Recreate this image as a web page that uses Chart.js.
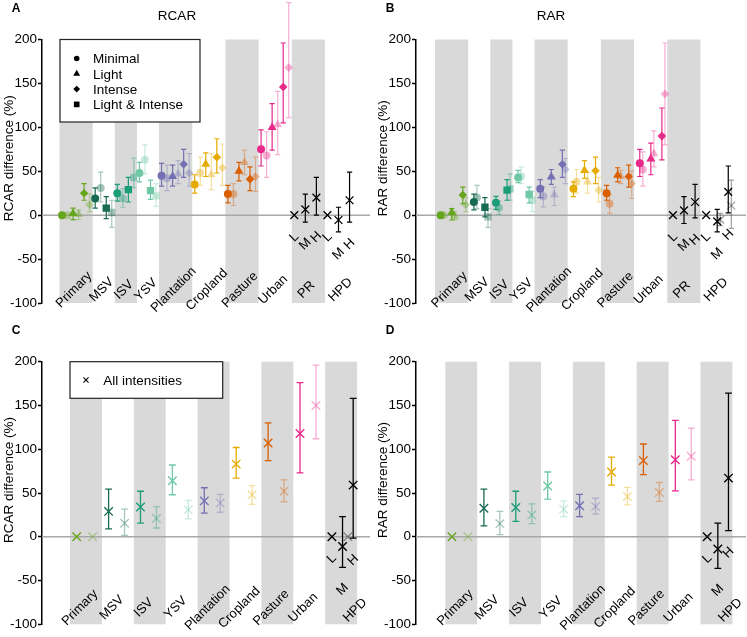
<!DOCTYPE html>
<html><head><meta charset="utf-8">
<script src="https://cdn.jsdelivr.net/npm/chart.js@4.4.1/dist/chart.umd.min.js"></script>
<style>
html,body{margin:0;padding:0;background:#fff;}
#wrap{position:relative;width:747px;height:637px;overflow:hidden;background:#fff;}
canvas{position:absolute;}
</style></head><body>
<div id="wrap">
<canvas id="cA" width="374" height="322" style="left:0;top:0"></canvas>
<canvas id="cB" width="373" height="322" style="left:374px;top:0"></canvas>
<canvas id="cC" width="374" height="315" style="left:0;top:322px"></canvas>
<canvas id="cD" width="373" height="315" style="left:374px;top:322px"></canvas>
</div>
<script>
// ---------------- data ----------------
const landUses = ['Primary','MSV','ISV','YSV','Plantation','Cropland','Pasture','Urban'];
const secondaryVeg = ['MSV','ISV','YSV'];
const pressureGroups = ['PR','HPD'];
const pressureLevels = ['L','M','H'];
const intensityNames = ['Minimal','Light','Intense','Light & Intense'];
const allLabel = 'All intensities';
const yTickValues = [-100,-50,0,50,100,150,200];
const landColors = ['#66a61e','#176b52','#1b9e77','#6fc8a6','#7570b3','#e6ab02','#d95f02','#e7298a'];

// [estimate, lower, upper]  (dark = main, pale = second estimate)
// Panel A : RCAR by land-use intensity
const rcarMinimal      = [[0,0,0],[19,8,31],[25,16,35],[48,38,60],[45,33,59],[35,25,46],[24,14,34],[75,56,97]];
const rcarLight        = [[2,-5,8],null,null,null,[44,33,57],[58,44,71],[50,39,60],[100,74,127]];
const rcarIntense      = [[25,17,36],null,null,null,[58,43,75],[66,48,87],[41,28,55],[146,105,196]];
const rcarLightIntense = [null,[8,-4,21],[29,15,43],[28,18,40],null,null,null,null];
const rcarMinimalPale      = [[0,0,0],[31,15,49],[19,9,30],[63,47,80],[42,28,57],[48,34,66],[24,11,36],[68,43,95]];
const rcarLightPale        = [[1,-5,6],null,null,null,[47,36,62],[46,29,70],[60,46,74],[103,69,141]];
const rcarIntensePale      = [[12,4,24],null,null,null,[48,33,70],[54,34,81],[44,27,66],[168,111,242]];
const rcarLightIntensePale = [null,[3,-14,17],[43,31,65],[22,10,36],null,null,null,null];
const rcarPR  = [[0,0,0],[6.5,-8,24],[20,0,43]];
const rcarHPD = [[0,0,0],[-5.5,-19,9],[17,-8,49]];

// Panel B : RAR by land-use intensity
const rarMinimal      = [[0,0,0],[15,6,24],[14,6.5,21.5],[43,37,51],[30,20,40.5],[30,21,38],[25,17,34],[59,44,75]];
const rarLight        = [[3,-5.5,7.5],null,null,null,[43.5,35,52],[51,42,62],[45.5,38,54],[64,46,82]];
const rarIntense      = [[23,13,32],null,null,null,[58,43,74],[50.5,36,66],[44,32,57],[90,63,122]];
const rarLightIntense = [null,[9,-2,20],[28.5,17,40.5],[23.5,14,32],null,null,null,null];
const rarMinimalPale      = [[0,0,0],[20,7.5,34],[8.5,1,16],[44,36,55],[21.5,9.5,32],[38,25,52],[13,2,23],[52,33,72]];
const rarLightPale        = [[-1,-5,4],null,null,null,[23,11,32],[38,25,49],[44,36,51],[70,55,96]];
const rarIntensePale      = [[12,4,20],null,null,null,[52,36,64.5],[28.5,15,43],[36,19,50.5],[138,80,196]];
const rarLightIntensePale = [null,[-2,-14,7.5],[30,17,47],[17,4,27],null,null,null,null];
const rarPR  = [[0,0,0],[5.5,-9.5,21],[15,-3,35]];
const rarHPD = [[0,0,0],[-7,-19,6.5],[26.5,2.5,56]];
const rarHPDPale = [null,[-5,-12,2],[11,-15,40]];

// Panel C : RCAR, all intensities
const rcarAll     = [[0,0,0],[29,9,54.5],[34,15.5,52],[64,48,82],[41,27,56],[83,67,102],[107,87,130],[118,73,176]];
const rcarAllPale = [[0,0,0],[15.5,1.5,31.5],[21,10,34.5],[31,20.5,41.5],[38.5,28,48.5],[48,37,58.5],[52,40,65],[150,112,196]];
const rcarAllHPD     = [[0,0,0],[-11,-35,23],[59,-1.5,158]];
const rcarAllHPDPale = [null,[0,0,0],null];

// Panel D : RAR, all intensities
const rarAll     = [[0,0,0],[32.5,12.5,54.5],[33.5,17.5,52],[58,43,74],[35.5,23,48.5],[74,59,91],[87,71,106],[88,52.5,133]];
const rarAllPale = [[0,0,0],[15,2.5,29],[25,15,37.5],[31.5,23,41],[34.5,26,44],[46,36.5,56.5],[50.5,40.5,62],[92,65,124]];
const rarAllHPD     = [[0,0,0],[-14,-36,15.5],[67,7,164]];
const rarAllHPDPale = [null,null,null];

// ---------------- rendering ----------------
const FONT = '"Liberation Sans", Arial, Helvetica, sans-serif';
const PALE = 0.38;
function rgba(hex, a) {
  const n = parseInt(hex.slice(1), 16);
  return 'rgba(' + ((n >> 16) & 255) + ',' + ((n >> 8) & 255) + ',' + (n & 255) + ',' + a + ')';
}
function rotText(ctx, txt, x, y, ang) {
  ctx.save(); ctx.translate(x, y); ctx.rotate(ang);
  ctx.textAlign = 'center'; ctx.textBaseline = 'middle';
  ctx.fillText(txt, 0, 0); ctx.restore();
}

function makePlugin(p) {
  return {
    id: 'deco' + p.letter,
    beforeDatasetsDraw(chart) {
      const ctx = chart.ctx, a = chart.chartArea, x = chart.scales.x, y = chart.scales.y;
      ctx.save();
      ctx.fillStyle = '#d9d9d9';
      p.bands.forEach(b => {
        const x0 = x.getPixelForValue(b[0]), x1 = x.getPixelForValue(b[1]);
        ctx.fillRect(x0, a.top, x1 - x0, a.bottom - a.top);
      });
      const y0 = y.getPixelForValue(0);
      ctx.strokeStyle = '#a8a8a8'; ctx.lineWidth = 1.5;
      ctx.beginPath(); ctx.moveTo(a.left, y0); ctx.lineTo(a.right, y0); ctx.stroke();
      for (let di = chart.data.datasets.length - 1; di >= 0; di--) {
        const ds = chart.data.datasets[di];
        const meta = chart.getDatasetMeta(di);
        meta.data.forEach((el, i) => {
          const r = ds.data[i];
          if (r.lo === r.hi) return;
          const ya = y.getPixelForValue(r.lo), yb = y.getPixelForValue(r.hi);
          ctx.strokeStyle = r.c; ctx.lineWidth = p.barWidth;
          ctx.beginPath();
          ctx.moveTo(el.x, ya); ctx.lineTo(el.x, yb);
          ctx.moveTo(el.x - p.cap, ya); ctx.lineTo(el.x + p.cap, ya);
          ctx.moveTo(el.x - p.cap, yb); ctx.lineTo(el.x + p.cap, yb);
          ctx.stroke();
        });
      }
      ctx.restore();
    },
    afterDraw(chart) {
      const ctx = chart.ctx, a = chart.chartArea, x = chart.scales.x, y = chart.scales.y;
      ctx.save();
      ctx.fillStyle = '#000';
      // category labels
      ctx.font = '13px ' + FONT;
      p.groupLabels.forEach((g, i) => {
        rotText(ctx, g.text, x.getPixelForValue(g.center) + g.dx, y.getPixelForValue(g.yv), -Math.PI / 4);
      });
      // L / M / H labels
      chart.data.datasets.forEach((ds, di) => {
        if (!ds.levelLabels) return;
        const meta = chart.getDatasetMeta(di);
        meta.data.forEach((el, i) => {
          const r = ds.data[i];
          rotText(ctx, r.lab, el.x, y.getPixelForValue(r.lo) + 22, -Math.PI / 4);
        });
      });
      // legend
      if (p.legend) {
        const L = p.legend;
        ctx.fillStyle = '#fff';
        ctx.fillRect(a.left + L.dx, a.top, L.w, L.h);
        ctx.strokeStyle = '#222'; ctx.lineWidth = 1.2;
        ctx.strokeRect(a.left + L.dx, a.top, L.w, L.h);
        L.items.forEach((it, i) => {
          const yy = a.top + L.y0 + i * L.step;
          ctx.fillStyle = '#000'; ctx.strokeStyle = '#000'; ctx.lineWidth = 1.1;
          Chart.helpers.drawPoint(ctx, {pointStyle: it.style, radius: it.r, rotation: 0, borderWidth: it.style === 'crossRot' ? 1.1 : 0}, a.left + L.mx, yy);
          ctx.fillStyle = '#000';
          ctx.font = '13.5px ' + FONT; ctx.textAlign = 'left'; ctx.textBaseline = 'middle';
          ctx.fillText(it.text, a.left + L.tx, yy + 1);
        });
      }
      // titles
      ctx.fillStyle = '#000';
      ctx.textAlign = 'center'; ctx.textBaseline = 'middle';
      if (p.title) { ctx.font = '13.5px ' + FONT; ctx.fillText(p.title, 177, 16); }
      ctx.font = 'bold 12px ' + FONT;
      ctx.fillText(p.letter, 16, 9);
      ctx.font = '13.5px ' + FONT;
      rotText(ctx, p.yTitle, 9, (a.top + a.bottom) / 2 - 13, -Math.PI / 2);
      ctx.restore();
    }
  };
}

function baseOptions(p) {
  return {
    responsive: false, animation: false, devicePixelRatio: 1, events: [],
    layout: {autoPadding: false, padding: {left: 0, right: p.W - p.R, top: p.T, bottom: p.H - p.B}},
    plugins: {legend: {display: false}, tooltip: {enabled: false}, title: {display: false}},
    scales: {
      x: {type: 'linear', display: false, min: (42 - p.p0) / p.w, max: (p.R - p.p0) / p.w},
      y: {
        type: 'linear', min: -100, max: 200,
        afterFit: s => { s.width = 42; },
        afterBuildTicks: s => { s.ticks = yTickValues.map(v => ({value: v})); },
        border: {display: true, color: '#000', width: 1.5},
        grid: {drawOnChartArea: false, drawTicks: true, tickLength: 4, color: '#000', tickColor: '#000', tickWidth: 1.5},
        ticks: {padding: 1, color: '#000', font: {family: FONT, size: 13.5}}
      }
    }
  };
}

function intensityPanel(p, series, prSolid, hpdSolid, hpdPale) {
  const sizes = landUses.map(u => secondaryVeg.includes(u) ? 4 : 6).concat(pressureGroups.map(() => 6));
  const starts = []; let s = 0; sizes.forEach(n => { starts.push(s); s += n; });
  const datasets = [];
  [{key: 'solid', off: 0, alpha: 1}, {key: 'pale', off: p.paleOff, alpha: PALE}].forEach(v => {
    series.forEach(se => {
      const data = [];
      se[v.key].forEach((t, g) => {
        if (!t) return;
        const col = v.alpha === 1 ? landColors[g] : rgba(landColors[g], v.alpha);
        data.push({x: starts[g] + 2 * se.k + v.off, y: t[0], lo: t[1], hi: t[2], c: col});
      });
      datasets.push({data, pointStyle: se.style, pointRadius: se.r, pointBackgroundColor: data.map(d => d.c),
        pointBorderWidth: 0, pointBorderColor: data.map(d => d.c), showLine: false});
    });
  });
  const pressure = (arr, gi, off, col, labels) => {
    const data = [];
    arr.forEach((t, j) => { if (t) data.push({x: starts[gi] + 2 * j + off, y: t[0], lo: t[1], hi: t[2], c: col, lab: pressureLevels[j]}); });
    return {data, pointStyle: 'crossRot', pointRadius: 5.5, pointBorderWidth: 1.3, pointBorderColor: col,
      pointBackgroundColor: 'rgba(0,0,0,0)', showLine: false, levelLabels: labels};
  };
  datasets.unshift(pressure(hpdSolid, 9, 0, '#000', true));
  datasets.unshift(pressure(prSolid, 8, 0, '#000', true));
  if (hpdPale) datasets.push(pressure(hpdPale, 9, p.paleOff, rgba('#000000', PALE), false));
  const names = landUses.concat(pressureGroups);
  p.bands = []; p.groupLabels = [];
  names.forEach((n, i) => {
    if (i % 2 === 0) p.bands.push([starts[i] + p.bandOff, starts[i] + sizes[i] + p.bandOff]);
    p.groupLabels.push({text: n, center: starts[i] + sizes[i] / 2 + p.bandOff, dx: n === 'HPD' ? -1 : -2, yv: -85});
  });
  return datasets;
}

function allPanel(p, solid, pale, hpdSolid, hpdPale) {
  const datasets = [];
  const mk = (arr, off, alpha) => {
    const data = [];
    arr.forEach((t, g) => {
      if (!t) return;
      const col = alpha === 1 ? landColors[g] : rgba(landColors[g], alpha);
      data.push({x: g + off, y: t[0], lo: t[1], hi: t[2], c: col});
    });
    return {data, pointStyle: 'crossRot', pointRadius: 6, pointBorderWidth: 1.4, pointBorderColor: data.map(d => d.c),
      pointBackgroundColor: 'rgba(0,0,0,0)', showLine: false};
  };
  const hp = (arr, off, col, labels) => {
    const data = [];
    arr.forEach((t, j) => { if (t) data.push({x: landUses.length + j / 3 + off, y: t[0], lo: t[1], hi: t[2], c: col, lab: pressureLevels[j]}); });
    return {data, pointStyle: 'crossRot', pointRadius: 6, pointBorderWidth: 1.4, pointBorderColor: col,
      pointBackgroundColor: 'rgba(0,0,0,0)', showLine: false, levelLabels: labels};
  };
  datasets.push(hp(hpdSolid, 0, '#000', true));
  datasets.push(mk(solid, 0, 1));
  datasets.push(mk(pale, 0.5, PALE));
  datasets.push(hp(hpdPale, 1 / 6, rgba('#000000', PALE), false));
  const names = landUses.concat(['HPD']);
  p.bands = []; p.groupLabels = [];
  names.forEach((n, g) => {
    if (g % 2 === 0) p.bands.push([g - 0.21, g + 0.79]);
    p.groupLabels.push({text: n, center: g + 0.29, dx: n === 'HPD' ? 14 : -6, yv: n === 'HPD' ? -84 : -81});
  });
  return datasets;
}

const seriesA = [
  {k: 0, style: 'circle', r: 4, solid: rcarMinimal, pale: rcarMinimalPale},
  {k: 1, style: 'triangle', r: 5.2, solid: rcarLight, pale: rcarLightPale},
  {k: 2, style: 'rectRot', r: 4.3, solid: rcarIntense, pale: rcarIntensePale},
  {k: 1, style: 'rect', r: 5.2, solid: rcarLightIntense, pale: rcarLightIntensePale}
];
const seriesB = [
  {k: 0, style: 'circle', r: 4, solid: rarMinimal, pale: rarMinimalPale},
  {k: 1, style: 'triangle', r: 5.2, solid: rarLight, pale: rarLightPale},
  {k: 2, style: 'rectRot', r: 4.3, solid: rarIntense, pale: rarIntensePale},
  {k: 1, style: 'rect', r: 5.2, solid: rarLightIntense, pale: rarLightIntensePale}
];

const pA = {letter: 'A', title: 'RCAR', yTitle: 'RCAR difference (%)', W: 374, H: 322, R: 370, T: 39.5, B: 303,
  p0: 62, w: 5.53, paleOff: 1, bandOff: -0.45, barWidth: 1.2, cap: 2.6,
  legend: {dx: 18, w: 140, h: 82.5, mx: 34.7, tx: 51, y0: 19, step: 15.3,
    items: [{style: 'circle', r: 2.8, text: intensityNames[0]}, {style: 'triangle', r: 4, text: intensityNames[1]},
            {style: 'rectRot', r: 3.4, text: intensityNames[2]}, {style: 'rect', r: 4, text: intensityNames[3]}]}};
const pB = {letter: 'B', title: 'RAR', yTitle: 'RAR difference (%)', W: 373, H: 322, R: 372, T: 39.5, B: 303,
  p0: 66.7, w: 5.53, paleOff: 0.55, bandOff: -1.03, barWidth: 1.2, cap: 2.6};
const pC = {letter: 'C', yTitle: 'RCAR difference (%)', W: 374, H: 315, R: 370, T: 39.7, B: 302.3,
  p0: 76.7, w: 31.9, barWidth: 1.3, cap: 3.4,
  legend: {dx: 28, w: 152.7, h: 36.6, mx: 44, tx: 61.3, y0: 18.3, step: 0,
    items: [{style: 'crossRot', r: 3.6, text: allLabel}]}};
const pD = {letter: 'D', yTitle: 'RAR difference (%)', W: 373, H: 315, R: 372, T: 39.7, B: 302.3,
  p0: 78, w: 31.9, barWidth: 1.3, cap: 3.4};

const dsA = intensityPanel(pA, seriesA, rcarPR, rcarHPD, null);
const dsB = intensityPanel(pB, seriesB, rarPR, rarHPD, rarHPDPale);
const dsC = allPanel(pC, rcarAll, rcarAllPale, rcarAllHPD, rcarAllHPDPale);
const dsD = allPanel(pD, rarAll, rarAllPale, rarAllHPD, rarAllHPDPale);

[[pA, dsA, 'cA'], [pB, dsB, 'cB'], [pC, dsC, 'cC'], [pD, dsD, 'cD']].forEach(([p, ds, id]) => {
  new Chart(document.getElementById(id), {
    type: 'scatter',
    data: {datasets: ds},
    options: baseOptions(p),
    plugins: [makePlugin(p)]
  });
});
</script>
</body></html>
